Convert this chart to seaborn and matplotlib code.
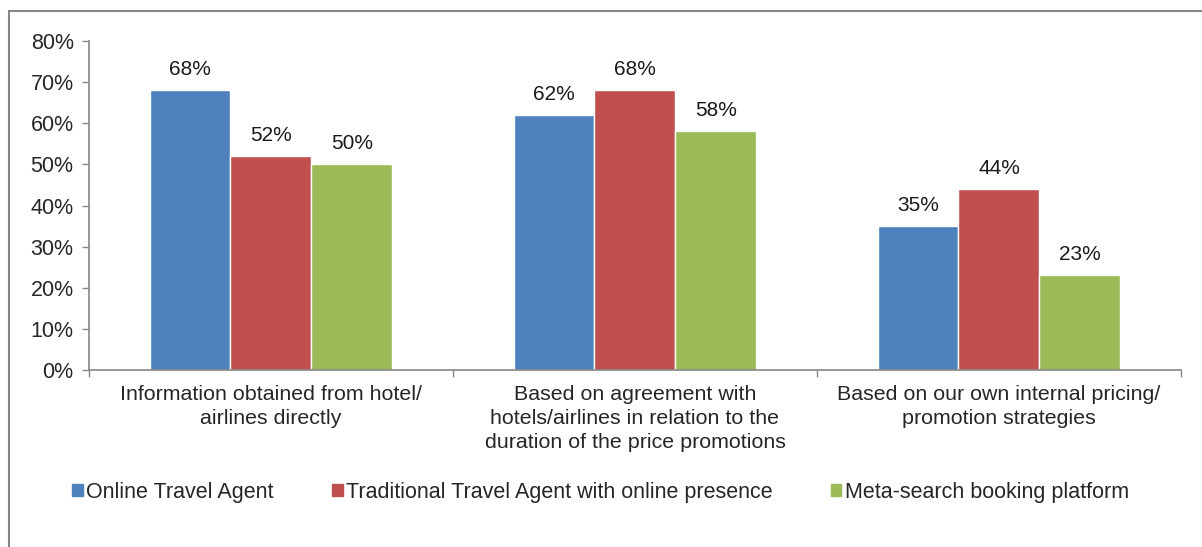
import numpy as np
import pandas as pd
import seaborn as sns
import matplotlib.pyplot as plt
from matplotlib.patches import Rectangle
from matplotlib.lines import Line2D

categories = ["Information obtained from hotel/\nairlines directly",
              "Based on agreement with\nhotels/airlines in relation to the\nduration of the price promotions",
              "Based on our own internal pricing/\npromotion strategies"]
series = ["Online Travel Agent",
          "Traditional Travel Agent with online presence",
          "Meta-search booking platform"]
online_agent = [68, 62, 35]
traditional_agent = [52, 68, 44]
meta_search = [50, 58, 23]
colors = ["#4F81BD", "#C0504D", "#9BBB59"]
yticks = np.arange(0, 81, 10)

df = pd.DataFrame({
    "category": categories * 3,
    "series": np.repeat(series, 3),
    "value": online_agent + traditional_agent + meta_search,
})

sns.set_style("white")
plt.rcParams["font.family"] = ["Liberation Sans", "DejaVu Sans"]

fig = plt.figure(figsize=(12.02, 5.47), dpi=100)
ax = fig.add_axes([0.074, 0.3236, 0.9085, 0.6014])

sns.barplot(data=df, x="category", y="value", hue="series", palette=colors,
            width=0.667, saturation=1, ax=ax, legend=False)

for cont in ax.containers:
    ax.bar_label(cont, fmt="%d%%", padding=8, fontsize=15, color="#1a1a1a")

ax.set_xlim(-0.5, 2.5)
ax.set_ylim(0, 80)
ax.set_yticks(yticks)
ax.set_yticklabels([f"{v}%" for v in yticks], fontsize=15.5)
ax.tick_params(axis="y", length=5, width=1, color="#868686", direction="out", pad=6, left=True)
ax.tick_params(axis="x", which="major", length=0, pad=11, labelsize=15.4)
ax.set_xticks([-0.5, 0.5, 1.5, 2.5], minor=True)
ax.tick_params(axis="x", which="minor", length=5, width=1, color="#868686", direction="out", bottom=True)
for lbl in ax.get_xticklabels():
    lbl.set_linespacing(1.33)
ax.set_xlabel("")
ax.set_ylabel("")
for s in ["top", "right"]:
    ax.spines[s].set_visible(False)
for s in ["left", "bottom"]:
    ax.spines[s].set_color("#868686")
    ax.spines[s].set_linewidth(1.2)

handles = [Rectangle((0, 0), 1, 1, color=c) for c in colors]
fig.legend(handles, series, loc="center", bbox_to_anchor=(0.4996, 0.1), ncol=3,
           frameon=False, fontsize=15.5, handlelength=0.5, handleheight=0.5,
           handletextpad=0.15, columnspacing=2.7)

# outer chart border: only the left and top edges are visible in the crop
top = 1 - 11 / 547
left = 9 / 1202
fig.lines.append(Line2D([left, left], [0, top], transform=fig.transFigure,
                        color="#868686", linewidth=1.5))
fig.lines.append(Line2D([left, 1], [top, top], transform=fig.transFigure,
                        color="#868686", linewidth=1.5))

fig.savefig("out.png", dpi=100)
